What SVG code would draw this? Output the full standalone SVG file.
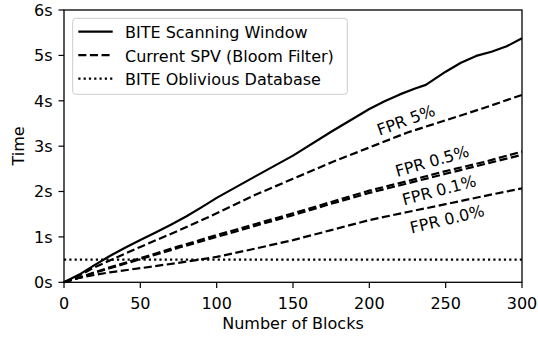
<svg xmlns="http://www.w3.org/2000/svg" width="538" height="337" viewBox="0 0 538 337">
<style>
text{font-family:"DejaVu Sans","Liberation Sans",sans-serif;font-size:16px;fill:#000}
.tick{stroke:#000;stroke-width:1.2}
.solid{fill:none;stroke:#000;stroke-width:2.2;stroke-linejoin:round}
.dash{fill:none;stroke:#000;stroke-width:2.2;stroke-dasharray:8.1 3.5;stroke-linejoin:round}
.dot{fill:none;stroke:#000;stroke-width:2.2;stroke-dasharray:2.2 3.1}
.yl{text-anchor:end}
.xl{text-anchor:middle}
</style>
<rect width="538" height="337" fill="#fff"/>
<g id="axes">
<g class="tick">
<line x1="58.5" y1="282.3" x2="64" y2="282.3"/>
<line x1="58.5" y1="236.9" x2="64" y2="236.9"/>
<line x1="58.5" y1="191.5" x2="64" y2="191.5"/>
<line x1="58.5" y1="146.2" x2="64" y2="146.2"/>
<line x1="58.5" y1="100.8" x2="64" y2="100.8"/>
<line x1="58.5" y1="55.4" x2="64" y2="55.4"/>
<line x1="58.5" y1="10" x2="64" y2="10"/>
<line x1="64" y1="282.3" x2="64" y2="288"/>
<line x1="140.33" y1="282.3" x2="140.33" y2="288"/>
<line x1="216.67" y1="282.3" x2="216.67" y2="288"/>
<line x1="293" y1="282.3" x2="293" y2="288"/>
<line x1="369.33" y1="282.3" x2="369.33" y2="288"/>
<line x1="445.67" y1="282.3" x2="445.67" y2="288"/>
<line x1="522" y1="282.3" x2="522" y2="288"/>
</g>
<text class="yl" x="52.5" y="288.1">0s</text>
<text class="yl" x="52.5" y="242.7">1s</text>
<text class="yl" x="52.5" y="197.3">2s</text>
<text class="yl" x="52.5" y="152">3s</text>
<text class="yl" x="52.5" y="106.6">4s</text>
<text class="yl" x="52.5" y="61.2">5s</text>
<text class="yl" x="52.5" y="15.8">6s</text>
<text class="xl" x="64" y="308.5">0</text>
<text class="xl" x="140.33" y="308.5">50</text>
<text class="xl" x="216.67" y="308.5">100</text>
<text class="xl" x="293" y="308.5">150</text>
<text class="xl" x="369.33" y="308.5">200</text>
<text class="xl" x="445.67" y="308.5">250</text>
<text class="xl" x="522" y="308.5">300</text>
<text class="xl" x="293" y="329">Number of Blocks</text>
<text class="xl" transform="translate(24,146) rotate(-90)">Time</text>
</g>
<g id="connectors">
<line class="dot" x1="64" y1="259.6" x2="522" y2="259.6"/>
<polyline class="dash" points="64,282.3 79.27,277.8 94.53,275 109.8,272.3 140.33,268.2 178.5,262.8 216.67,256.9 254.83,248.7 293,240.1 331.17,230.1 369.33,220.1 407.5,212 445.67,204.2 483.83,196.1 522,188.4"/>
<polyline class="dash" points="64,282.3 79.27,277.8 94.53,272.8 109.8,268.2 140.33,259.2 178.5,247.8 216.67,236.9 254.83,226 293,215.1 331.17,203.8 369.33,192.9 407.5,183.4 445.67,173.8 483.83,164.3 522,154.8"/>
<polyline class="dash" points="64,282.3 79.27,277.8 94.53,272.3 109.8,267.3 140.33,258.2 178.5,246.4 216.67,235.1 254.83,224.2 293,213.3 331.17,202 369.33,190.6 407.5,181.1 445.67,171.1 483.83,162 522,151.6"/>
<polyline class="dash" points="64,282.3 79.27,275.5 94.53,267.3 109.8,260.5 140.33,246.9 178.5,230.6 216.67,213.3 254.83,195 293,178.8 331.17,162.5 369.33,147.5 407.5,132.5 445.67,120.3 483.83,108 522,94.9"/>
<polyline class="solid" points="64,282.3 79.27,274.6 94.53,265.1 109.8,256 125.07,247.8 140.33,240.1 155.6,232.4 170.87,224.7 186.13,216.5 201.4,207.4 216.67,197.9 254.83,176.6 293,155.6 331.17,131.8 369.33,109 384.6,101.2 399.87,94.4 415.13,88.5 425.82,84.9 445.67,71.7 460.93,62.7 476.2,55.9 491.47,51.8 506.73,46.3 522,38.2"/>
</g>
<g id="frame">
<rect x="64" y="10" width="458" height="272.3" fill="none" stroke="#000" stroke-width="1.3"/>
</g>
<g id="labels">
<text text-anchor="middle" transform="translate(406,120) rotate(-20)" y="5.8">FPR 5%</text>
<text text-anchor="middle" transform="translate(432,161) rotate(-16)" y="5.8">FPR 0.5%</text>
<text text-anchor="middle" transform="translate(439,190) rotate(-15)" y="5.8">FPR 0.1%</text>
<text text-anchor="middle" transform="translate(447,219) rotate(-13.5)" y="5.8">FPR 0.0%</text>
</g>
<g id="legend">
<rect x="72.7" y="18.3" width="274.6" height="76" rx="3" ry="3" fill="#fff" fill-opacity="0.8" stroke="#cccccc" stroke-width="1"/>
<line class="solid" x1="78.3" y1="31.6" x2="112.7" y2="31.6"/>
<line class="dash" x1="78.3" y1="55.1" x2="112.7" y2="55.1"/>
<line class="dot" x1="78.3" y1="78.6" x2="112.7" y2="78.6"/>
<text x="125" y="38.4">BITE Scanning Window</text>
<text x="125" y="61.9">Current SPV (Bloom Filter)</text>
<text x="125" y="85.4">BITE Oblivious Database</text>
</g>
</svg>
